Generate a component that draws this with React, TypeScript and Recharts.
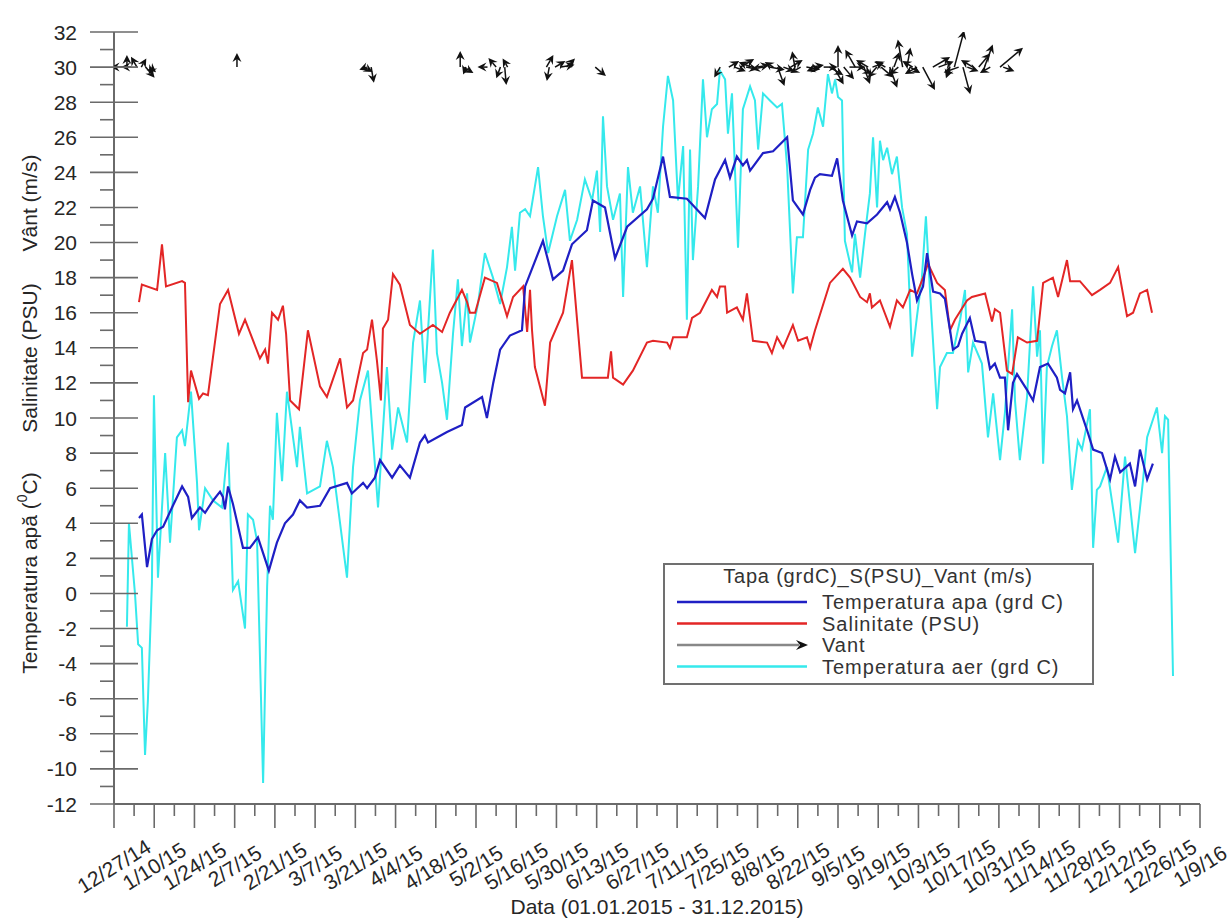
import React from 'react';
import { ComposedChart, Line, Scatter, XAxis, YAxis, Legend } from 'recharts';

// x values: days since 12/27/2014
const xTickLabels = ['12/27/14','1/10/15','1/24/15','2/7/15','2/21/15','3/7/15','3/21/15','4/4/15','4/18/15','5/2/15','5/16/15','5/30/15','6/13/15','6/27/15','7/11/15','7/25/15','8/8/15','8/22/15','9/5/15','9/19/15','10/3/15','10/17/15','10/31/15','11/14/15','11/28/15','12/12/15','12/26/15','1/9/16'];
const xTicks = Array.from({ length: 55 }, (_, i) => i * 7);
const yTicks = Array.from({ length: 45 }, (_, i) => -12 + i);

const waterTemp: [number, number][] = [[8.7,4.3],[9.7,4.5],[11.5,1.5],[13.2,3.1],[15.0,3.6],[17.1,3.8],[20.2,4.9],[23.7,6.1],[25.8,5.5],[27.1,4.3],[29.9,4.9],[31.7,4.6],[34.5,5.3],[36.9,5.8],[37.9,5.5],[38.6,4.8],[39.7,6.1],[41.4,5.1],[44.9,2.6],[47.3,2.6],[50.1,3.2],[53.9,1.3],[56.7,2.9],[59.5,4.0],[62.3,4.5],[64.7,5.3],[67.2,4.9],[71.7,5.0],[75.2,6.0],[81.1,6.3],[82.8,5.7],[86.7,6.3],[88.1,6.0],[90.8,6.6],[92.6,7.6],[96.8,6.6],[99.5,7.3],[103.0,6.6],[106.5,8.6],[108.2,9.0],[109.3,8.6],[115.9,9.2],[121.1,9.6],[122.2,10.6],[128.1,11.2],[129.8,10.0],[132.0,12.0],[134.4,13.9],[137.8,14.7],[142.0,15.0],[143.1,17.5],[149.3,20.1],[152.8,17.9],[156.3,18.4],[159.4,19.9],[164.6,20.7],[166.7,22.4],[170.9,22.0],[174.4,19.1],[178.6,20.9],[185.5,21.9],[187.6,22.5],[191.1,24.9],[193.5,22.6],[199.4,22.5],[205.7,21.4],[209.2,23.6],[212.7,24.7],[214.4,23.7],[216.8,24.9],[218.9,24.4],[220.3,24.7],[221.4,24.1],[225.9,25.1],[229.4,25.2],[234.3,26.0],[236.3,22.4],[239.8,21.6],[242.3,23.0],[244.0,23.7],[245.7,23.9],[249.9,23.8],[251.7,24.8],[253.7,22.4],[256.9,20.4],[258.6,21.2],[262.1,21.1],[265.6,21.6],[269.1,22.3],[270.1,21.9],[271.8,22.6],[273.6,21.7],[276.0,20.0],[277.8,18.2],[279.5,16.7],[281.6,17.5],[283.0,19.4],[285.1,17.2],[287.5,17.1],[289.2,16.8],[291.0,15.0],[292.0,13.9],[293.8,14.1],[295.2,14.8],[297.9,15.7],[299.7,14.4],[303.2,14.3],[304.9,12.8],[306.6,13.1],[308.4,12.3],[310.1,12.3],[311.2,9.3],[312.9,12.0],[314.3,12.5],[317.8,11.6],[319.9,11.0],[322.3,12.9],[325.1,13.1],[328.2,12.3],[329.3,11.6],[331.0,11.4],[332.8,12.6],[333.8,10.5],[335.2,11.0],[338.7,9.3],[340.8,8.2],[343.9,8.0],[346.7,6.5],[348.4,7.8],[350.2,6.9],[353.6,7.4],[355.4,6.1],[357.1,8.2],[359.6,6.5],[361.6,7.4]];

const salinity: [number, number][] = [[8.7,16.6],[9.7,17.6],[15.0,17.3],[16.7,19.9],[18.1,17.5],[23.7,17.8],[24.7,17.7],[25.8,10.9],[26.8,12.7],[29.6,11.1],[31.0,11.4],[32.7,11.3],[36.9,16.5],[39.7,17.3],[43.5,14.8],[45.6,15.6],[50.8,13.4],[52.6,13.9],[53.6,13.1],[55.0,16.0],[57.1,15.6],[58.8,16.4],[59.9,14.8],[61.3,11.0],[64.4,10.5],[67.5,15.0],[71.7,11.8],[74.1,11.2],[78.7,13.4],[81.1,10.6],[83.2,11.0],[86.7,13.7],[88.1,13.9],[89.8,15.6],[91.5,13.3],[92.9,11.0],[93.6,15.1],[95.4,15.6],[97.1,18.2],[99.5,17.6],[103.0,15.3],[106.5,14.8],[111.0,15.3],[114.2,14.9],[116.9,16.0],[121.1,17.3],[122.9,16.6],[123.9,16.0],[125.7,16.0],[129.1,18.0],[133.3,17.7],[136.8,15.8],[138.9,16.9],[142.4,17.5],[143.8,14.9],[144.8,17.3],[145.5,15.0],[146.5,12.9],[150.0,10.7],[151.8,14.3],[156.3,16.0],[159.4,19.0],[162.9,12.3],[164.6,12.3],[171.9,12.3],[173.0,13.8],[173.7,12.3],[177.2,11.9],[180.6,12.7],[185.5,14.3],[187.6,14.4],[192.5,14.3],[193.5,14.0],[194.6,14.6],[199.4,14.6],[201.2,15.7],[204.0,16.0],[208.1,17.3],[209.9,16.9],[210.9,17.5],[212.7,17.5],[213.4,16.0],[216.8,16.3],[218.9,15.6],[220.3,17.1],[222.4,14.4],[227.3,14.3],[229.0,13.7],[230.8,14.6],[232.9,14.0],[236.3,15.3],[238.1,14.4],[241.2,14.6],[242.3,14.0],[244.0,15.0],[249.2,17.7],[253.7,18.5],[256.2,18.0],[259.7,16.9],[262.1,16.6],[263.1,17.1],[263.8,16.3],[266.6,16.7],[270.1,15.2],[272.5,16.7],[274.6,16.3],[277.1,17.3],[279.5,17.1],[282.3,18.3],[283.3,18.8],[286.5,17.7],[289.2,17.3],[291.0,15.0],[292.7,15.6],[296.9,16.7],[298.6,16.9],[303.2,17.1],[305.6,15.5],[306.6,16.2],[308.4,16.0],[310.8,12.7],[312.6,12.5],[314.6,14.6],[317.8,14.3],[321.3,14.4],[323.4,17.7],[326.8,18.0],[328.6,16.9],[331.7,19.0],[332.8,17.8],[336.2,17.8],[340.4,17.0],[343.2,17.3],[346.7,17.7],[349.5,18.6],[352.6,15.8],[354.7,16.0],[357.1,17.1],[359.6,17.3],[361.3,16.0]];

const airTemp: [number, number][] = [[4.5,-1.9],[5.2,4.0],[7.3,0.0],[8.4,-2.9],[9.7,-3.1],[10.8,-9.2],[11.8,-6.1],[13.2,0.6],[13.9,11.3],[15.3,0.9],[17.8,8.0],[19.5,2.9],[21.9,8.9],[23.7,9.3],[24.7,8.4],[26.8,11.5],[28.9,6.3],[29.6,3.6],[31.7,6.0],[34.5,5.3],[37.6,4.9],[39.7,8.6],[41.4,0.2],[43.2,0.7],[45.6,-2.0],[46.6,4.5],[48.4,4.2],[49.8,3.0],[51.9,-10.8],[53.3,0.4],[54.3,5.0],[55.3,4.2],[56.7,10.3],[58.5,6.4],[60.2,11.5],[63.7,7.2],[64.7,9.5],[67.2,5.7],[71.7,6.1],[74.1,8.7],[76.2,7.2],[81.1,0.9],[83.2,7.2],[85.6,11.0],[88.4,12.7],[91.9,4.9],[95.0,12.9],[96.8,8.2],[98.9,10.6],[102.0,8.6],[104.1,14.3],[106.5,16.7],[108.2,12.0],[111.0,19.6],[112.4,13.7],[114.2,12.0],[115.9,9.9],[118.0,14.8],[119.7,17.9],[121.1,14.1],[122.9,17.1],[123.9,14.3],[126.7,16.5],[129.1,19.4],[131.9,18.0],[134.4,16.5],[136.8,18.6],[138.5,20.9],[139.6,18.4],[141.3,21.7],[143.1,21.9],[144.8,21.5],[147.6,24.3],[149.3,21.5],[151.1,19.4],[154.2,21.5],[157.0,23.0],[158.7,20.1],[161.2,21.3],[163.9,23.6],[166.4,22.4],[168.1,24.1],[169.2,20.6],[170.2,27.2],[171.6,23.2],[173.7,21.3],[176.1,22.8],[177.2,16.9],[178.9,24.3],[180.6,21.7],[183.1,23.2],[185.5,18.6],[187.6,23.2],[189.3,21.7],[191.1,26.6],[192.8,29.5],[194.6,28.1],[196.3,22.4],[198.1,25.5],[199.4,15.6],[200.5,25.3],[201.5,19.0],[203.3,23.2],[205.0,29.3],[206.4,26.0],[208.1,27.6],[209.9,27.9],[210.9,29.8],[212.7,29.3],[213.7,26.2],[215.1,28.5],[217.2,19.7],[218.9,27.6],[221.4,28.9],[223.1,28.1],[224.2,25.3],[225.9,28.5],[228.3,28.1],[230.8,27.7],[232.5,27.9],[234.3,24.3],[236.3,17.1],[237.7,20.3],[239.8,20.3],[241.6,25.3],[243.3,26.2],[245.0,27.7],[246.8,26.6],[248.5,29.6],[249.9,28.5],[251.0,29.3],[252.0,28.3],[253.4,28.1],[254.4,20.1],[256.9,18.3],[257.9,20.5],[259.7,18.0],[261.4,20.5],[263.1,22.8],[264.2,26.0],[265.6,22.0],[266.6,25.8],[267.7,24.7],[269.1,25.4],[270.8,23.9],[272.5,24.9],[274.3,22.0],[276.0,20.5],[277.8,13.5],[279.5,15.8],[281.2,18.0],[282.6,21.5],[284.0,17.3],[286.5,10.5],[287.5,12.9],[289.9,13.7],[292.0,13.7],[294.5,15.6],[296.2,17.3],[297.3,12.6],[299.0,14.3],[302.1,13.1],[304.2,8.9],[306.0,11.4],[308.4,7.6],[310.1,10.3],[312.6,16.2],[313.6,11.0],[315.3,7.6],[317.8,11.2],[319.9,17.5],[321.3,13.5],[322.3,15.0],[323.4,7.4],[324.7,12.9],[326.5,14.1],[328.2,15.0],[330.0,12.3],[331.7,10.1],[333.4,5.9],[335.5,8.7],[336.9,8.2],[339.7,10.5],[340.8,2.6],[342.1,5.9],[343.2,6.1],[345.6,7.2],[349.5,2.9],[351.9,7.8],[355.4,2.3],[358.2,6.5],[359.6,8.9],[363.0,10.6],[364.8,8.0],[365.8,10.1],[366.9,9.9],[368.6,-4.7]];

// wind: [day, speed (m/s), direction the arrow points (deg, clockwise from up)]
const wind: [number, number, number][] = [[3,3,270],[4.5,3,0],[6,2.5,270],[8,3,330],[9.5,2.5,30],[11,3.5,140],[12.5,2,130],[13.5,2,210],[42.8,3.5,0],[87,2.5,120],[88,2,250],[89.5,4,170],[120.5,4,0],[121.5,3,120],[122.5,2,200],[130,2.5,270],[133,3,320],[134.5,3,200],[136,4.5,175],[137,2.5,330],[150.5,3.5,30],[151.5,3.5,190],[153.5,3,60],[155.5,3.5,80],[157.5,3,45],[167.5,3.5,130],[211,3,210],[214,3,60],[216,3,110],[218,4,60],[220,3,100],[222,3.5,290],[224,3,80],[226,3,260],[228,4,100],[229.5,2.5,300],[231,5,160],[233,3,110],[235.5,3.5,60],[237,4,350],[239,3,240],[241,3.5,100],[243,3,80],[245,3,250],[247,3.5,90],[249,4,120],[250.5,5,150],[252,5.5,0],[254,4,140],[256,4,90],[258,5,330],[259.5,3.5,120],[261,4.5,160],[262.5,3.5,300],[264,3,70],[265.5,3.5,220],[267,4,130],[268.5,3,300],[270,5.5,160],[271.5,4,20],[273,3,230],[274.5,7,350],[276,5,10],[277,3,120],[278,3,300],[279.5,3.5,240],[281.5,6.5,152],[285,5,60],[287,4,70],[291,3,200],[292.5,9.5,15],[294,4,250],[295.5,7,165],[297,3,110],[299,3.5,300],[301,4.5,40],[303,6,20],[305,3,240],[308.4,7.5,50],[309.5,3,110]];
const windLevel = 30;

const COLORS = { water: '#1f1fc4', sal: '#e32626', air: '#35e9ec', wind: '#111111' };
const legendTitle = 'Tapa (grdC)_S(PSU)_Vant (m/s)';
const legendItems = [
  { name: 'Temperatura apa (grd C)', color: COLORS.water, arrow: false },
  { name: 'Salinitate (PSU)', color: COLORS.sal, arrow: false },
  { name: 'Vant', color: '#888888', arrow: true },
  { name: 'Temperatura aer (grd C)', color: COLORS.air, arrow: false },
];

const FONT = '"Liberation Sans", Arial, sans-serif';
const TEXT = '#262626';
const AXIS = '#6a6a6a';

const waterData = waterTemp.map(([d, v]) => ({ d, v }));
const salData = salinity.map(([d, v]) => ({ d, v }));
const airData = airTemp.map(([d, v]) => ({ d, v }));
const windData = wind.map(([d, speed, dir]) => ({ d, y: windLevel, speed, dir }));

const ARROW_PX = 4;

const ArrowShape = (props: any) => {
  const { cx, cy, payload } = props;
  if (cx == null || cy == null) return null;
  const len = payload.speed * ARROW_PX;
  const rad = (payload.dir * Math.PI) / 180;
  const ux = Math.sin(rad), uy = -Math.cos(rad);
  const ex = cx + ux * len, ey = cy + uy * len;
  const hl = 9, hw = 4.5;
  const bx = ex - ux * hl, by = ey - uy * hl;
  const nx = ex - ux * (hl * 0.65), ny = ey - uy * (hl * 0.65);
  const px = -uy, py = ux;
  return (
    <g>
      <line x1={cx} y1={cy} x2={nx} y2={ny} stroke={COLORS.wind} strokeWidth={1.5} />
      <polygon points={`${ex},${ey} ${bx + px * hw},${by + py * hw} ${nx},${ny} ${bx - px * hw},${by - py * hw}`} fill={COLORS.wind} />
    </g>
  );
};

const XTick = (props: any) => {
  const { x, y, payload } = props;
  const d = payload.value;
  const major = d % 14 === 0;
  const label = major ? xTickLabels[d / 14] : null;
  const ly = y + 62;
  return (
    <g>
      <line x1={x} y1={y} x2={x} y2={y + (major ? 24 : 12)} stroke={AXIS} strokeWidth={1.6} />
      {label && (
        <text x={x} y={ly} transform={`rotate(-32, ${x}, ${ly})`} textAnchor="middle" dominantBaseline="central" fontSize={21} fontFamily={FONT} fill={TEXT}>
          {label}
        </text>
      )}
    </g>
  );
};

const YTick = (props: any) => {
  const { x, y, payload } = props;
  const v = payload.value;
  const major = Math.abs(v % 2) === 0;
  return (
    <g>
      <line x1={major ? x - 24 : x - 14} x2={major ? x + 24 : x} y1={y} y2={y} stroke={AXIS} strokeWidth={1.6} />
      {major && (
        <text x={x - 37} y={y} textAnchor="end" dominantBaseline="central" fontSize={21} fontFamily={FONT} fill={TEXT}>
          {v}
        </text>
      )}
    </g>
  );
};

const YTitle = () => (
  <g fontFamily={FONT} fontSize={21} fill={TEXT}>
    <text x={29} y={203} transform="rotate(-90, 29, 203)" textAnchor="middle" dominantBaseline="central">Vânt (m/s)</text>
    <text x={29} y={358} transform="rotate(-90, 29, 358)" textAnchor="middle" dominantBaseline="central">Salinitate (PSU)</text>
    <text x={29} y={573} transform="rotate(-90, 29, 573)" textAnchor="middle" dominantBaseline="central">
      Temperatura apă (<tspan dy={-7} fontSize={14}>0</tspan><tspan dy={7}>C)</tspan>
    </text>
  </g>
);

const XTitle = () => (
  <text x={657} y={906} textAnchor="middle" dominantBaseline="central" fontFamily={FONT} fontSize={21} fill={TEXT}>
    Data (01.01.2015 - 31.12.2015)
  </text>
);

const LegendBox = () => (
  <div style={{ width: 431, height: 122, boxSizing: 'border-box', border: '2px solid #707070', background: '#fff' }}>
    <svg width={427} height={118} style={{ display: 'block' }}>
      <text x={213} y={18} textAnchor="middle" fontFamily={FONT} fontSize={20} fill="#333" letterSpacing={0.8}>{legendTitle}</text>
      {legendItems.map((it, i) => {
        const ly = 37 + i * 21.5;
        return (
          <g key={it.name}>
            <line x1={12} x2={it.arrow ? 134 : 142} y1={ly} y2={ly} stroke={it.color} strokeWidth={2.5} />
            {it.arrow && <polygon points={`143,${ly} 131,${ly - 5} 135,${ly} 131,${ly + 5}`} fill="#111" />}
            <text x={157} y={ly + 7} fontFamily={FONT} fontSize={20} fill="#333" letterSpacing={1}>{it.name}</text>
          </g>
        );
      })}
    </svg>
  </div>
);

export default function App() {
  return (
    <div style={{ width: 1227, height: 919, background: '#fff' }}>
      <style>{'body{margin:0;overflow:hidden;background:#fff}'}</style>
      <ComposedChart width={1227} height={919} margin={{ top: 32, right: 27, left: 0, bottom: 0 }}>
        <XAxis
          type="number"
          dataKey="d"
          domain={[0, 378]}
          ticks={xTicks}
          interval={0}
          tick={<XTick />}
          tickLine={false}
          tickSize={0}
          tickMargin={0}
          height={115}
          axisLine={{ stroke: AXIS, strokeWidth: 2 }}
          allowDataOverflow
          label={<XTitle />}
        />
        <YAxis
          type="number"
          domain={[-12, 32]}
          ticks={yTicks}
          interval={0}
          tick={<YTick />}
          tickLine={false}
          tickSize={0}
          tickMargin={0}
          width={114}
          axisLine={{ stroke: AXIS, strokeWidth: 2 }}
          allowDataOverflow
          label={<YTitle />}
        />
        <Legend
          content={<LegendBox />}
          layout="vertical"
          align="center"
          verticalAlign="middle"
          wrapperStyle={{ position: 'absolute', left: 663, top: 563, width: 431, height: 122 }}
        />
        <Line data={airData} dataKey="v" type="linear" stroke={COLORS.air} strokeWidth={2} dot={false} isAnimationActive={false} name="Temperatura aer (grd C)" />
        <Line data={salData} dataKey="v" type="linear" stroke={COLORS.sal} strokeWidth={2} dot={false} isAnimationActive={false} name="Salinitate (PSU)" />
        <Line data={waterData} dataKey="v" type="linear" stroke={COLORS.water} strokeWidth={2.2} dot={false} isAnimationActive={false} name="Temperatura apa (grd C)" />
        <Scatter data={windData} dataKey="y" shape={<ArrowShape />} isAnimationActive={false} name="Vant" />
      </ComposedChart>
    </div>
  );
}
